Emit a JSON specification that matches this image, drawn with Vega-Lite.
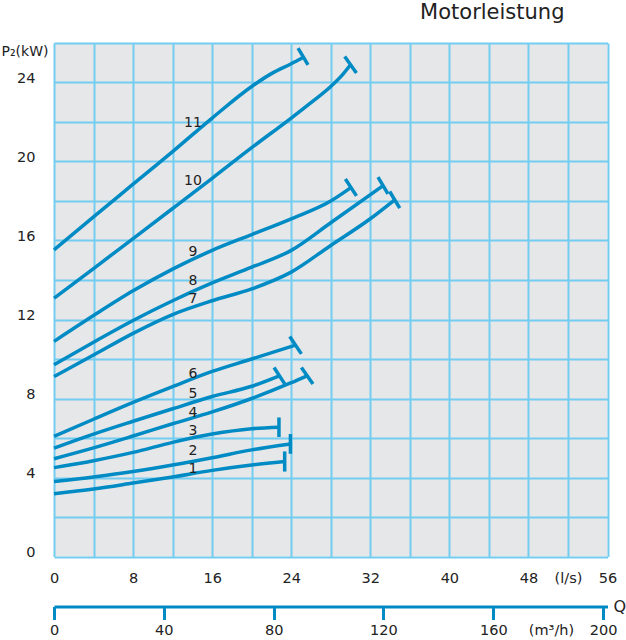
{
  "$schema": "https://vega.github.io/schema/vega-lite/v6.json",
  "width": 553.5,
  "height": 513.5,
  "autosize": {"type": "none"},
  "padding": {"left": 54, "top": 43, "right": 18, "bottom": 84},
  "config": {
    "font": "DejaVu Sans",
    "view": {"fill": "#e6e7e9", "stroke": null}
  },
  "title": {
    "text": "Motorleistung",
    "anchor": "end",
    "frame": "group",
    "dx": -43,
    "baseline": "alphabetic",
    "offset": -9,
    "fontSize": 21,
    "fontWeight": "normal",
    "color": "#222222"
  },
  "datasets": {
    "curves": [
      {"curve": 1, "q": 0, "p": 3.18}, {"curve": 1, "q": 4, "p": 3.42}, {"curve": 1, "q": 8, "p": 3.72}, {"curve": 1, "q": 12, "p": 4.03}, {"curve": 1, "q": 16, "p": 4.36}, {"curve": 1, "q": 20, "p": 4.63}, {"curve": 1, "q": 23.34, "p": 4.81},
      {"curve": 2, "q": 0, "p": 3.8}, {"curve": 2, "q": 4, "p": 4.03}, {"curve": 2, "q": 8, "p": 4.3}, {"curve": 2, "q": 12, "p": 4.63}, {"curve": 2, "q": 16, "p": 5.0}, {"curve": 2, "q": 20, "p": 5.4}, {"curve": 2, "q": 23.92, "p": 5.7},
      {"curve": 3, "q": 0, "p": 4.5}, {"curve": 3, "q": 4, "p": 4.85}, {"curve": 3, "q": 8, "p": 5.27}, {"curve": 3, "q": 12, "p": 5.78}, {"curve": 3, "q": 16, "p": 6.2}, {"curve": 3, "q": 20, "p": 6.47}, {"curve": 3, "q": 22.76, "p": 6.55},
      {"curve": 4, "q": 0, "p": 4.95}, {"curve": 4, "q": 4, "p": 5.5}, {"curve": 4, "q": 8, "p": 6.1}, {"curve": 4, "q": 12, "p": 6.72}, {"curve": 4, "q": 16, "p": 7.32}, {"curve": 4, "q": 20, "p": 8.0}, {"curve": 4, "q": 24, "p": 8.8}, {"curve": 4, "q": 25.6, "p": 9.15},
      {"curve": 5, "q": 0, "p": 5.49}, {"curve": 5, "q": 4, "p": 6.2}, {"curve": 5, "q": 8, "p": 6.85}, {"curve": 5, "q": 12, "p": 7.48}, {"curve": 5, "q": 16, "p": 8.1}, {"curve": 5, "q": 20, "p": 8.62}, {"curve": 5, "q": 22.8, "p": 9.15},
      {"curve": 6, "q": 0, "p": 6.08}, {"curve": 6, "q": 4, "p": 6.95}, {"curve": 6, "q": 8, "p": 7.8}, {"curve": 6, "q": 12, "p": 8.6}, {"curve": 6, "q": 16, "p": 9.37}, {"curve": 6, "q": 20, "p": 10.0}, {"curve": 6, "q": 24.44, "p": 10.7},
      {"curve": 7, "q": 0, "p": 9.11}, {"curve": 7, "q": 4, "p": 10.2}, {"curve": 7, "q": 8, "p": 11.3}, {"curve": 7, "q": 12, "p": 12.25}, {"curve": 7, "q": 16, "p": 12.95}, {"curve": 7, "q": 20, "p": 13.55}, {"curve": 7, "q": 24, "p": 14.4}, {"curve": 7, "q": 28, "p": 15.75}, {"curve": 7, "q": 32, "p": 17.1}, {"curve": 7, "q": 34.47, "p": 18.06},
      {"curve": 8, "q": 0, "p": 9.71}, {"curve": 8, "q": 4, "p": 10.85}, {"curve": 8, "q": 8, "p": 11.95}, {"curve": 8, "q": 12, "p": 12.95}, {"curve": 8, "q": 16, "p": 13.85}, {"curve": 8, "q": 20, "p": 14.65}, {"curve": 8, "q": 24, "p": 15.5}, {"curve": 8, "q": 28, "p": 16.9}, {"curve": 8, "q": 33.3, "p": 18.78},
      {"curve": 9, "q": 0, "p": 10.89}, {"curve": 9, "q": 4, "p": 12.2}, {"curve": 9, "q": 8, "p": 13.45}, {"curve": 9, "q": 12, "p": 14.55}, {"curve": 9, "q": 16, "p": 15.5}, {"curve": 9, "q": 20, "p": 16.3}, {"curve": 9, "q": 24, "p": 17.1}, {"curve": 9, "q": 28, "p": 18.0}, {"curve": 9, "q": 30.04, "p": 18.68},
      {"curve": 10, "q": 0, "p": 13.08}, {"curve": 10, "q": 4, "p": 14.58}, {"curve": 10, "q": 8, "p": 16.1}, {"curve": 10, "q": 12, "p": 17.62}, {"curve": 10, "q": 16, "p": 19.15}, {"curve": 10, "q": 20, "p": 20.7}, {"curve": 10, "q": 24, "p": 22.2}, {"curve": 10, "q": 26, "p": 22.98}, {"curve": 10, "q": 28, "p": 23.8}, {"curve": 10, "q": 29.2, "p": 24.4}, {"curve": 10, "q": 30.0, "p": 24.9},
      {"curve": 11, "q": 0, "p": 15.53}, {"curve": 11, "q": 4, "p": 17.2}, {"curve": 11, "q": 8, "p": 18.85}, {"curve": 11, "q": 12, "p": 20.5}, {"curve": 11, "q": 16, "p": 22.2}, {"curve": 11, "q": 20, "p": 23.8}, {"curve": 11, "q": 22, "p": 24.45}, {"curve": 11, "q": 24, "p": 24.95}, {"curve": 11, "q": 25.2, "p": 25.27}
    ],
    "caps": [
      {"curve": 1, "q": 23.34, "p": 5.32, "q2": 23.34, "p2": 4.3},
      {"curve": 2, "q": 23.92, "p": 6.2, "q2": 23.92, "p2": 5.2},
      {"curve": 3, "q": 22.76, "p": 7.04, "q2": 22.76, "p2": 6.05},
      {"curve": 4, "q": 25.03, "p": 9.57, "q2": 26.2, "p2": 8.73},
      {"curve": 5, "q": 22.26, "p": 9.57, "q2": 23.34, "p2": 8.74},
      {"curve": 6, "q": 23.85, "p": 11.14, "q2": 25.03, "p2": 10.26},
      {"curve": 7, "q": 33.96, "p": 18.48, "q2": 34.98, "p2": 17.64},
      {"curve": 8, "q": 32.78, "p": 19.21, "q2": 33.79, "p2": 18.36},
      {"curve": 9, "q": 29.48, "p": 19.11, "q2": 30.6, "p2": 18.26},
      {"curve": 10, "q": 29.41, "p": 25.32, "q2": 30.6, "p2": 24.48},
      {"curve": 11, "q": 24.69, "p": 25.74, "q2": 25.7, "p2": 24.89}
    ],
    "labels": [
      {"label": "1", "q": 14.06, "p": 4.43},
      {"label": "2", "q": 14.06, "p": 5.32},
      {"label": "3", "q": 14.06, "p": 6.33},
      {"label": "4", "q": 14.06, "p": 7.29},
      {"label": "5", "q": 14.06, "p": 8.24},
      {"label": "6", "q": 14.06, "p": 9.25},
      {"label": "7", "q": 14.06, "p": 13.03},
      {"label": "8", "q": 14.06, "p": 13.96},
      {"label": "9", "q": 14.06, "p": 15.44},
      {"label": "10", "q": 14.06, "p": 19.0},
      {"label": "11", "q": 14.06, "p": 21.94}
    ],
    "flow": [{"m3h": 0}, {"m3h": 200}]
  },
  "layer": [
    {
      "layer": [
        {
          "data": {"name": "curves"},
          "mark": {"type": "line", "interpolate": "monotone", "color": "#008bc4", "strokeWidth": 3.5, "strokeCap": "butt"},
          "encoding": {
            "x": {
              "field": "q", "type": "quantitative",
              "scale": {"domain": [0, 56], "nice": false, "zero": true},
              "axis": {
                "title": null,
                "values": [0, 4, 8, 12, 16, 20, 24, 28, 32, 36, 40, 44, 48, 52, 56],
                "tickCount": 60,
                "format": "d",
                "labelExpr": "datum.value == 52 ? '(l/s)' : datum.label",
                "labelOpacity": {"condition": {"test": "datum.value % 8 != 0 && datum.value != 52", "value": 0}, "value": 1},
                "domain": false,
                "ticks": false,
                "tickSize": 0,
                "grid": true,
                "gridColor": "#72cdf0",
                "gridWidth": 2,
                "gridOpacity": 1,
                "labelFontSize": 14.5,
                "labelColor": "#222222",
                "labelBaseline": "alphabetic",
                "labelPadding": 26,
                "labelFlush": false,
                "labelOverlap": false
              }
            },
            "y": {
              "field": "p", "type": "quantitative",
              "scale": {"domain": [0, 26], "nice": false, "zero": true},
              "axis": {
                "title": "P₂(kW)",
                "titleAngle": 0,
                "titleAlign": "right",
                "titleBaseline": "middle",
                "titleX": -6,
                "titleY": 8,
                "titleFontSize": 14,
                "titleFontWeight": "normal",
                "titleColor": "#222222",
                "values": [0, 2, 4, 6, 8, 10, 12, 14, 16, 18, 20, 22, 24, 26],
                "tickCount": 60,
                "format": "d",
                "labelOpacity": {"condition": {"test": "datum.value % 4 != 0 || datum.value > 24", "value": 0}, "value": 1},
                "domain": false,
                "ticks": false,
                "tickSize": 0,
                "grid": true,
                "gridColor": "#72cdf0",
                "gridWidth": 2,
                "gridOpacity": 1,
                "labelFontSize": 14.5,
                "labelColor": "#222222",
                "labelBaseline": "alphabetic",
                "labelAlign": "right",
                "labelPadding": 19,
                "labelFlush": false,
                "labelOverlap": false
              }
            },
            "detail": {"field": "curve", "type": "nominal"}
          }
        },
        {
          "data": {"name": "caps"},
          "mark": {"type": "rule", "color": "#008bc4", "strokeWidth": 3.5},
          "encoding": {
            "x": {"field": "q", "type": "quantitative"},
            "y": {"field": "p", "type": "quantitative"},
            "x2": {"field": "q2"},
            "y2": {"field": "p2"}
          }
        },
        {
          "data": {"name": "labels"},
          "mark": {"type": "text", "fontSize": 14, "color": "#222222", "align": "center", "baseline": "middle"},
          "encoding": {
            "x": {"field": "q", "type": "quantitative"},
            "y": {"field": "p", "type": "quantitative"},
            "text": {"field": "label"}
          }
        }
      ]
    },
    {
      "data": {"name": "flow"},
      "mark": {"type": "point", "opacity": 0},
      "encoding": {
        "x": {
          "field": "m3h", "type": "quantitative",
          "scale": {"domain": [0, 201.6], "nice": false, "zero": true},
          "axis": {
            "orient": "bottom",
            "offset": 50,
            "title": "Q",
            "titleX": 559,
            "titleY": 0,
            "titleAlign": "left",
            "titleBaseline": "middle",
            "titleAngle": 0,
            "titleFontSize": 16,
            "titleFontWeight": "normal",
            "titleColor": "#222222",
            "values": [0, 40, 80, 120, 160, 181, 200],
            "tickCount": 60,
            "format": "d",
            "labelExpr": "datum.value == 181 ? '(m³/h)' : datum.label",
            "domain": true,
            "domainColor": "#008bc4",
            "domainWidth": 3,
            "ticks": true,
            "tickSize": 13,
            "tickWidth": 3,
            "tickColor": {"condition": {"test": "datum.value == 181", "value": "transparent"}, "value": "#008bc4"},
            "grid": false,
            "labelFontSize": 14.5,
            "labelColor": "#222222",
            "labelBaseline": "alphabetic",
            "labelPadding": 15,
            "labelFlush": false,
            "labelOverlap": false
          }
        }
      }
    }
  ],
  "resolve": {"scale": {"x": "independent"}, "axis": {"x": "independent"}}
}
